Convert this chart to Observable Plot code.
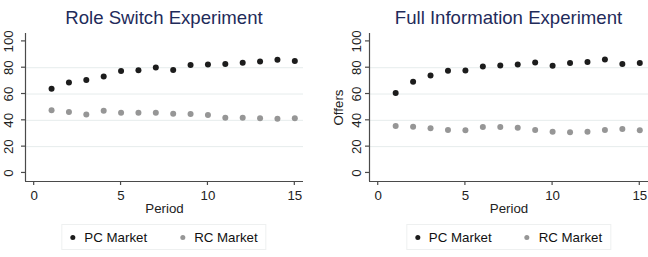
<!DOCTYPE html>
<html>
<head>
<meta charset="utf-8">
<script src="https://cdn.jsdelivr.net/npm/d3@7"></script>
<script src="https://cdn.jsdelivr.net/npm/@observablehq/plot@0.6"></script>
<style>
  body { margin: 0; background: #fff; font-family: "Liberation Sans", Arial, sans-serif; }
  #wrap { position: relative; width: 648px; height: 257px; overflow: hidden; background: #fff; }
  .panel { position: absolute; top: 0; }
  .title { position: absolute; top: 7px; font-size: 18.6px; color: #1f2b5a; white-space: nowrap; transform: translateX(-50%); }
  .legend { position: absolute; top: 224px; height: 26px; border: 1px solid #eef0f0; box-sizing: border-box;
            display: flex; align-items: center; font-size: 13.3px; color: #111; transform: translateX(-50%); white-space: nowrap; }
  .legend .sw { display: inline-block; width: 5px; height: 5px; border-radius: 50%; margin: 0 9px 0 8px; }
  .legend .item { display: flex; align-items: center; margin-right: 8px; }
  .legend .item + .item { margin-left: 17px; }
</style>
</head>
<body>
<div id="wrap"></div>
<script>
// Average offers per period, by market type, in each experiment
const periods = [1, 2, 3, 4, 5, 6, 7, 8, 9, 10, 11, 12, 13, 14, 15];
const roleSwitchPC = [64.0, 68.8, 70.6, 73.4, 77.5, 78.0, 80.2, 78.2, 82.0, 82.5, 82.8, 83.8, 84.8, 86.0, 85.1];
const roleSwitchRC = [47.6, 46.3, 44.5, 47.3, 45.8, 45.8, 45.8, 45.0, 44.8, 44.0, 42.0, 42.0, 41.5, 41.2, 41.5];
const fullInfoPC = [60.7, 69.3, 74.1, 77.6, 77.9, 81.0, 81.7, 82.5, 84.0, 81.5, 83.5, 84.3, 86.3, 82.8, 83.5];
const fullInfoRC = [35.7, 35.2, 33.9, 32.6, 32.4, 34.9, 34.9, 34.4, 32.6, 31.4, 30.9, 31.4, 32.6, 33.4, 32.4];

const seriesNames = ["PC Market", "RC Market"];
const seriesColors = ["#1c1c1c", "#969696"];
const xTicks = [0, 5, 10, 15];
const yTicks = [0, 20, 40, 60, 80, 100];
const gridTicks = [20, 40, 60, 80];

const panels = [
  {title: "Role Switch Experiment", pc: roleSwitchPC, rc: roleSwitchRC, yLabel: null, left: 0, width: 324,
   marginLeft: 25, marginRight: 21, tickLabelDx: -16.5},
  {title: "Full Information Experiment", pc: fullInfoPC, rc: fullInfoRC, yLabel: "Offers", left: 324, width: 324,
   marginLeft: 45, marginRight: 0, tickLabelDx: -12.5}
];

const font = '"Liberation Sans", Arial, sans-serif';
const axisColor = "#4a4a4a";
const labelSize = 13.3;
const wrap = document.getElementById("wrap");

for (const p of panels) {
  const rows = periods.flatMap((t, i) => [
    {period: t, offer: p.pc[i], market: seriesNames[0]},
    {period: t, offer: p.rc[i], market: seriesNames[1]}
  ]);
  const xMin = -0.5, yMin = -6.5;

  const marks = [
    Plot.ruleY(gridTicks, {stroke: "#e6ecec", strokeWidth: 1}),
    Plot.dot(rows, {x: "period", y: "offer", fill: "market", r: 3, stroke: null}),
    Plot.ruleX([xMin], {stroke: axisColor, strokeWidth: 1.2}),
    Plot.ruleY([yMin], {stroke: axisColor, strokeWidth: 1.2}),
    // y tick labels, rotated to read upward
    Plot.text(yTicks, {x: xMin, y: d => d, text: d => String(d), rotate: -90, dx: p.tickLabelDx, textAnchor: "middle",
      lineAnchor: "middle", fontSize: labelSize, fill: "#222", fontFamily: font}),
    // x tick labels
    Plot.text(xTicks, {x: d => d, y: yMin, text: d => String(d), dy: 14, lineAnchor: "middle",
      fontSize: labelSize, fill: "#222", fontFamily: font}),
    Plot.text(["Period"], {frameAnchor: "bottom", dy: 27.5, lineAnchor: "middle",
      fontSize: labelSize, fill: "#222", fontFamily: font})
  ];
  if (p.yLabel) {
    marks.push(Plot.text([p.yLabel], {frameAnchor: "left", dx: -30.5, rotate: -90, textAnchor: "middle",
      lineAnchor: "middle", fontSize: labelSize, fill: "#222", fontFamily: font}));
  }

  const chart = Plot.plot({
    width: p.width,
    height: 215,
    marginLeft: p.marginLeft,
    marginRight: p.marginRight,
    marginTop: 33,
    marginBottom: 34,
    style: {background: "transparent", overflow: "visible", fontFamily: font},
    x: {domain: [xMin, 15.5], axis: null},
    y: {domain: [yMin, 106], axis: null},
    color: {domain: seriesNames, range: seriesColors},
    marks
  });

  // tick marks on both axes, positioned through the chart's own scales
  const xs = chart.scale("x"), ys = chart.scale("y");
  const svg = d3.select(chart);
  const y0 = ys.apply(yMin);
  svg.append("g").selectAll("line").data(xTicks).join("line")
    .attr("x1", d => xs.apply(d)).attr("x2", d => xs.apply(d))
    .attr("y1", y0).attr("y2", y0 + 4)
    .attr("stroke", axisColor).attr("stroke-width", 1.2);
  svg.append("g").selectAll("line").data(yTicks).join("line")
    .attr("x1", xs.apply(xMin) - 4).attr("x2", xs.apply(xMin))
    .attr("y1", d => ys.apply(d)).attr("y2", d => ys.apply(d))
    .attr("stroke", axisColor).attr("stroke-width", 1.2);

  const holder = document.createElement("div");
  holder.className = "panel";
  holder.style.left = p.left + "px";
  holder.appendChild(chart);
  wrap.appendChild(holder);

  const center = p.left + (p.marginLeft + (p.width - p.marginRight)) / 2;

  const title = document.createElement("div");
  title.className = "title";
  title.style.left = center + "px";
  title.textContent = p.title;
  wrap.appendChild(title);

  const legend = document.createElement("div");
  legend.className = "legend";
  legend.style.left = center + "px";
  seriesNames.forEach((name, i) => {
    const item = document.createElement("span");
    item.className = "item";
    const sw = document.createElement("span");
    sw.className = "sw";
    sw.style.background = seriesColors[i];
    item.appendChild(sw);
    item.appendChild(document.createTextNode(name));
    legend.appendChild(item);
  });
  wrap.appendChild(legend);
}
</script>
</body>
</html>
